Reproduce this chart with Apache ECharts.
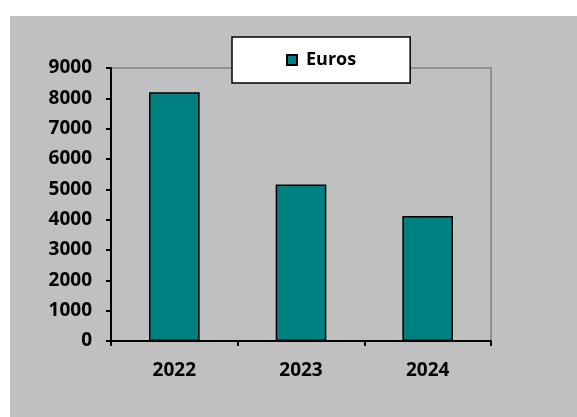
<!DOCTYPE html>
<html>
<head>
<meta charset="utf-8">
<script src="https://cdn.jsdelivr.net/npm/echarts@6/dist/echarts.min.js"></script>
<style>
html,body{margin:0;padding:0;background:#ffffff;}
#chart{width:577px;height:417px;}
</style>
</head>
<body>
<div id="chart"></div>
<script>
var categories = ['2022', '2023', '2024'];
var euros = [8200, 5160, 4120];
var seriesName = 'Euros';
var yMin = 0, yMax = 9000, yInterval = 1000;

var chart = echarts.init(document.getElementById('chart'), null, {renderer: 'canvas'});
var font = 'Open Sans';
chart.setOption({
  animation: false,
  backgroundColor: '#ffffff',
  graphic: [{
    type: 'rect', z: -10, silent: true,
    shape: {x: 10, y: 16, width: 567, height: 401},
    style: {fill: '#c0c0c0'}
  }],
  grid: {
    left: 111, top: 68, right: 86, bottom: 76,
    show: true, borderColor: '#808080', borderWidth: 1.5, backgroundColor: 'transparent'
  },
  legend: {
    data: [seriesName],
    left: 232, top: 37,
    padding: [14, 54, 14, 54],
    backgroundColor: '#ffffff',
    borderColor: '#000000', borderWidth: 1.5,
    icon: 'rect', itemWidth: 10, itemHeight: 10, itemGap: 0,
    textStyle: {fontFamily: font, fontWeight: 'bold', fontSize: 18, color: '#000', padding: [0,0,0,4]}
  },
  xAxis: {
    type: 'category', data: categories, boundaryGap: true,
    axisLine: {lineStyle: {color: '#000', width: 2}},
    axisTick: {show: true, inside: false, length: 5, lineStyle: {color: '#000', width: 2}},
    axisLabel: {fontFamily: font, fontWeight: 'bold', fontSize: 19, color: '#000', margin: 20},
    splitLine: {show: false}
  },
  yAxis: {
    type: 'value', min: yMin, max: yMax, interval: yInterval,
    axisLine: {show: true, lineStyle: {color: '#000', width: 2}},
    axisTick: {show: true, inside: false, length: 5, lineStyle: {color: '#000', width: 2}},
    axisLabel: {fontFamily: font, fontWeight: 'bold', fontSize: 19, color: '#000', margin: 19,
      formatter: function (v) { return String(v); }},
    splitLine: {show: false}
  },
  series: [{
    name: seriesName, type: 'bar', data: euros, barWidth: '40%',
    itemStyle: {color: '#008080', borderColor: '#000', borderWidth: 1.5}
  }]
});
</script>
</body>
</html>
